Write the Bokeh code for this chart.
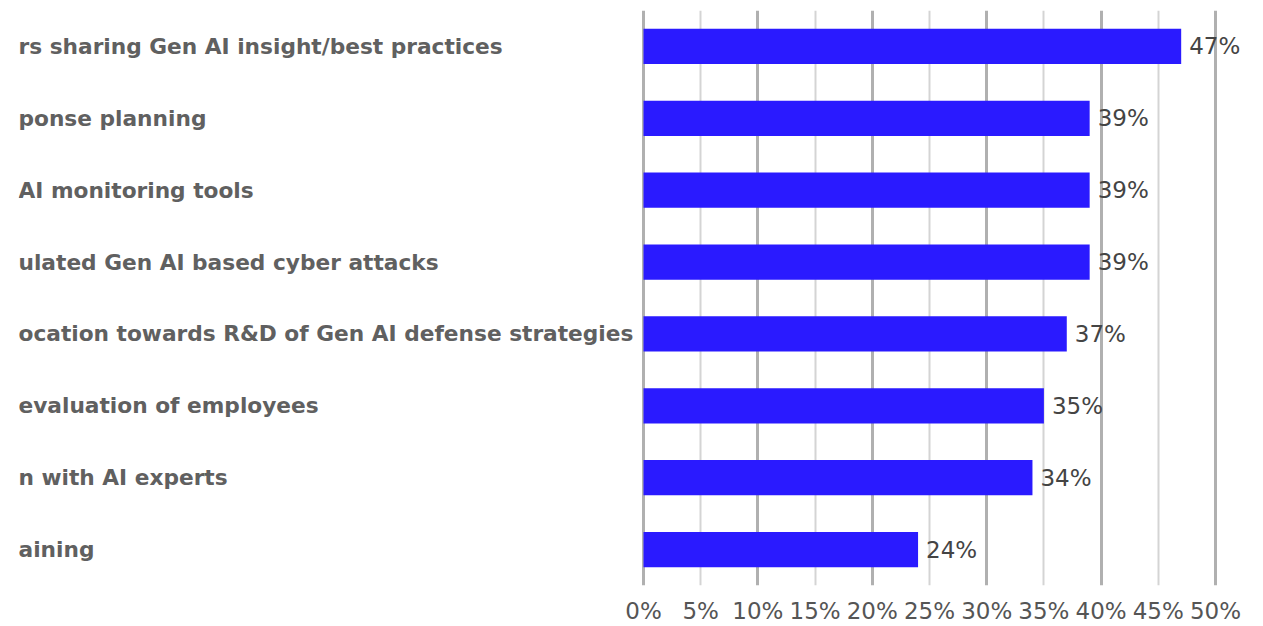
from bokeh.plotting import figure
from bokeh.models import Range1d, FactorRange, FixedTicker, Grid, ColumnDataSource
from bokeh.core.properties import value
from bokeh.embed import file_html
from bokeh.resources import INLINE

categories = [
    "rs sharing Gen AI insight/best practices",
    "ponse planning",
    "AI monitoring tools",
    "ulated Gen AI based cyber attacks",
    "ocation towards R&D of Gen AI defense strategies",
    "evaluation of employees",
    "n with AI experts",
    "aining",
]
values = [47, 39, 39, 39, 37, 35, 34, 24]
value_labels = ["47%", "39%", "39%", "39%", "37%", "35%", "34%", "24%"]
tick_values = [0, 5, 10, 15, 20, 25, 30, 35, 40, 45, 50]
tick_labels = ["0%", "5%", "10%", "15%", "20%", "25%", "30%", "35%", "40%", "45%", "50%"]

FONT = "DejaVu Sans"
W, H = 1255, 626
left_pad = 18
px_per_unit = 11.44
zero_px = 643 - left_pad          # zero line offset from frame left
x_start = -zero_px / px_per_unit
x_end = (W - left_pad - zero_px) / px_per_unit

p = figure(width=W, height=H, output_backend="svg", toolbar_location=None,
           x_range=Range1d(x_start, x_end),
           y_range=FactorRange(factors=categories[::-1]),
           y_axis_location=None,
           min_border_left=left_pad, min_border_right=0,
           min_border_top=10, min_border_bottom=36)
p.outline_line_color = None
p.background_fill_color = "white"
p.border_fill_color = "white"

# grids
p.xgrid.ticker = FixedTicker(ticks=tick_values[::2])
p.xgrid.grid_line_color = "#b0b0b0"
p.xgrid.grid_line_width = 3
minor = Grid(dimension=0, ticker=FixedTicker(ticks=tick_values[1::2]),
             grid_line_color="#d4d4d4", grid_line_width=2)
p.add_layout(minor)
p.ygrid.grid_line_color = None

src = ColumnDataSource(dict(cat=categories, val=values, lab=value_labels,
                            lx=[x_start] * len(categories)))

p.hbar(y="cat", right="val", left=0, height=0.49, source=src,
       fill_color="#2A1AFF", line_color=None)

p.text(x="val", y="cat", text="lab", source=src, x_offset=8,
       text_baseline="middle", text_align="left",
       text_font=value(FONT), text_font_size="23px", text_color="#444444")

p.text(x="lx", y="cat", text="cat", source=src, x_offset=0,
       text_baseline="middle", text_align="left",
       text_font=value(FONT), text_font_size="21.7px", text_font_style="bold",
       text_color="#606060")

ax = p.xaxis[0]
ax.ticker = FixedTicker(ticks=tick_values)
ax.major_label_overrides = {t: l for t, l in zip(tick_values, tick_labels)}
ax.axis_line_color = None
ax.major_tick_line_color = None
ax.minor_tick_line_color = None
ax.major_label_standoff = 6
ax.major_label_text_font = FONT
ax.major_label_text_font_size = "23px"
ax.major_label_text_color = "#555555"

open("out.html", "w").write(file_html(p, INLINE))
